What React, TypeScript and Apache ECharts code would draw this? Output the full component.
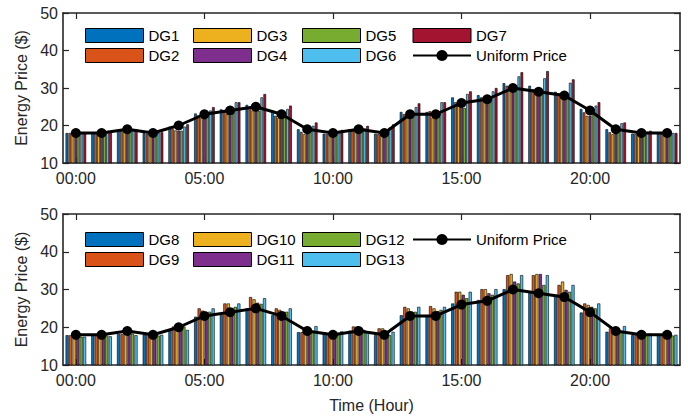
import React, { useEffect, useRef } from "react";
import * as echarts from "echarts";

const hours = Array.from({ length: 24 }, (_, i) => (i < 10 ? "0" + i : "" + i) + ":00");
const yTicks = [10, 20, 30, 40, 50];

const uniformPrice = [18, 18, 19, 18, 20, 23, 24, 25, 23, 19, 18, 19, 18, 23, 23, 26, 27, 30, 29, 28, 24, 19, 18, 18];

const dg1 = [18, 18, 18.5, 18, 19.7, 23.2, 24.3, 25.5, 23.9, 19, 17.8, 19, 17.8, 23.6, 23.6, 27.5, 28.1, 31.3, 30.6, 29, 24.4, 19, 17.8, 17.8];
const dg2 = [18, 18, 18.5, 17.8, 19, 22.7, 24, 24.7, 22.6, 18.3, 17.7, 18.6, 17.7, 23, 23.8, 26.2, 27.5, 30.6, 29.7, 28.6, 23.5, 18.2, 17.7, 17.7];
const dg3 = [17.5, 17.7, 18.3, 17.6, 18.7, 22, 23, 24, 22, 17.7, 17.6, 18.5, 17.6, 22.1, 22.1, 25.3, 26.6, 29.7, 29, 27.3, 22.6, 17.7, 17.6, 17.6];
const dg4 = [17.5, 17.6, 18.2, 17.5, 18.6, 21.8, 22.7, 24, 22.2, 17.8, 17.4, 18.4, 17.5, 22.3, 21.8, 25.7, 27, 29.9, 28.2, 27.6, 22.6, 17.8, 17.5, 17.5];
const dg5 = [17.8, 17.8, 18.5, 17.7, 18.6, 22.5, 24, 23.9, 22.6, 18.6, 17.7, 18.6, 17.8, 22.6, 22.3, 24.7, 26.6, 30.1, 28.9, 27.8, 23.1, 18.2, 17.7, 17.7];
const dg6 = [18, 18.2, 18.7, 18, 19.7, 24, 26.2, 27.5, 24.4, 19.9, 18.5, 19.2, 19.5, 24.9, 26.2, 28.4, 29.1, 33.1, 32.6, 31.4, 25.3, 20.6, 18.3, 18];
const dg7 = [18, 18.3, 19, 18.2, 20.3, 24.9, 26.2, 28.4, 25.3, 20.8, 18.8, 19.9, 20.3, 25.9, 26.2, 29.1, 30, 34.2, 34.5, 32.3, 26.2, 20.8, 18.6, 18];

const dg8 = [17.9, 18, 18.2, 18, 19.3, 22.8, 23.2, 25, 23.2, 18.7, 18.7, 19.1, 17.9, 23.2, 23.2, 26.3, 27.2, 30.1, 29.4, 28.6, 23.9, 18.8, 17.9, 18];
const dg9 = [17.9, 18, 18.2, 18.4, 20.2, 25, 26.3, 28, 25, 18.7, 18.2, 20.2, 19.7, 25.4, 25.6, 29.4, 30.1, 33.8, 33.8, 31.2, 26.3, 19.7, 18.2, 18];
const dg10 = [17.6, 17.8, 18.4, 17.6, 20.6, 24.4, 26.3, 27.4, 24.6, 19.1, 18.3, 20.2, 19.7, 25, 25, 29.4, 30.1, 34.1, 34.1, 32.1, 25.9, 19.1, 17.9, 17.8];
const dg11 = [17.6, 17.8, 17.9, 17.9, 19.7, 23.7, 25, 26.5, 24.1, 17.9, 18, 19.1, 18.8, 24.1, 24.3, 28.6, 29, 32.1, 34.1, 29.9, 25.4, 18.3, 17.7, 17.7];
const dg12 = [17.5, 17.8, 18.3, 17.8, 20.2, 24.1, 25.4, 26.2, 24.1, 18.7, 18.3, 19.3, 17.9, 24.1, 24.6, 27.7, 28.6, 31.6, 31.2, 29.4, 25, 18.7, 17.9, 17.8];
const dg13 = [17.5, 17.6, 17.9, 18, 19.3, 25, 26.3, 27.7, 25, 20.3, 18.9, 18.7, 18.8, 25.4, 25.4, 29.4, 30.1, 33.8, 33.8, 31.2, 26.3, 20.3, 18.3, 18];

const topNames = ["DG1", "DG2", "DG3", "DG4", "DG5", "DG6", "DG7"];
const bottomNames = ["DG8", "DG9", "DG10", "DG11", "DG12", "DG13"];
const topData = [dg1, dg2, dg3, dg4, dg5, dg6, dg7];
const bottomData = [dg8, dg9, dg10, dg11, dg12, dg13];
const colors = ["#0072BD", "#D95319", "#EDB120", "#7E2F8E", "#77AC30", "#4DBEEE", "#A2142F"];

const FONT = "'Liberation Sans', Arial, sans-serif";
const AX = "#262626";

export default function App() {
  const ref = useRef<HTMLDivElement>(null);
  useEffect(() => {
    if (!ref.current) return;
    const chart = echarts.init(ref.current, null, { renderer: "svg" });

    const xBase = (gridIndex: number, top: boolean, name?: string) => ({
      type: "category",
      data: hours,
      gridIndex,
      position: top ? "top" : "bottom",
      boundaryGap: true,
      axisLine: { show: true, lineStyle: { color: AX, width: 1.6 } },
      axisTick: { show: true, inside: true, length: 6, interval: 4, alignWithLabel: true, lineStyle: { color: AX, width: 1.2 } },
      axisLabel: {
        show: !top,
        interval: 4,
        fontSize: 16,
        color: AX,
        fontFamily: FONT,
        margin: 7,
      },
      splitLine: { show: false },
      name: name,
      nameLocation: "middle",
      nameGap: 32,
      nameTextStyle: { fontSize: 16, color: AX, fontFamily: FONT },
    });

    const yBase = (gridIndex: number, right: boolean) => ({
      type: "value",
      gridIndex,
      position: right ? "right" : "left",
      min: yTicks[0],
      max: yTicks[yTicks.length - 1],
      interval: 10,
      axisLine: { show: true, lineStyle: { color: AX, width: 1.6 } },
      axisTick: { show: true, inside: true, length: 6, lineStyle: { color: AX, width: 1.2 } },
      axisLabel: {
        show: !right,
        fontSize: 16,
        color: AX,
        fontFamily: FONT,
        margin: 5,
      },
      splitLine: { show: false },
      name: right ? "" : "Energy Price ($)",
      nameLocation: "middle",
      nameRotate: 90,
      nameGap: 31,
      nameTextStyle: { fontSize: 16, color: AX, fontFamily: FONT },
    });

    const barSeries = (names: string[], data: number[][], xi: number, yi: number) =>
      names.map((n, i) => ({
        type: "bar",
        name: n,
        data: data[i],
        xAxisIndex: xi,
        yAxisIndex: yi,
        barGap: "12%",
        barCategoryGap: "20%",
        itemStyle: { color: colors[i], borderColor: "#000", borderWidth: 0.6 },
      }));

    const lineSeries = (xi: number, yi: number) => ({
      type: "line",
      name: "Uniform Price",
      data: uniformPrice,
      xAxisIndex: xi,
      yAxisIndex: yi,
      symbol: "circle",
      symbolSize: 10,
      z: 5,
      lineStyle: { color: "#000", width: 3 },
      itemStyle: { color: "#000" },
    });

    const legendItem = (n: string) =>
      n === "Uniform Price"
        ? { name: n }
        : { name: n, icon: "rect", itemStyle: { borderColor: "#000", borderWidth: 1 } };

    const legendCol = (names: string[], left: number, top: number) => ({
      orient: "vertical",
      left,
      top,
      padding: 0,
      itemGap: 5,
      itemWidth: 58,
      itemHeight: 14,
      data: names.map(legendItem),
      selectedMode: false,
      textStyle: { fontSize: 15, color: "#000", fontFamily: FONT },
    });

    const option: any = {
      animation: false,
      grid: [
        { left: 63, right: 8, top: 13, height: 150 },
        { left: 63, right: 8, top: 214, height: 151 },
      ],
      xAxis: [xBase(0, false), xBase(0, true), xBase(1, false, "Time (Hour)"), xBase(1, true)],
      yAxis: [yBase(0, false), yBase(0, true), yBase(1, false), yBase(1, true)],
      legend: [
        legendCol(["DG1", "DG2"], 85, 28),
        legendCol(["DG3", "DG4"], 193, 28),
        legendCol(["DG5", "DG6"], 302, 28),
        legendCol(["DG7", "Uniform Price"], 412, 28),
        legendCol(["DG8", "DG9"], 85, 232),
        legendCol(["DG10", "DG11"], 193, 232),
        legendCol(["DG12", "DG13"], 302, 232),
        legendCol(["Uniform Price"], 412, 232),
      ],
      series: [
        ...barSeries(topNames, topData, 0, 0),
        lineSeries(0, 0),
        ...barSeries(bottomNames, bottomData, 2, 2),
        lineSeries(2, 2),
      ],
    };
    chart.setOption(option);
    return () => chart.dispose();
  }, []);

  return (
    <div
      ref={ref}
      style={{ position: "fixed", left: 0, top: 0, width: 688, height: 417, background: "#fff" }}
    />
  );
}
